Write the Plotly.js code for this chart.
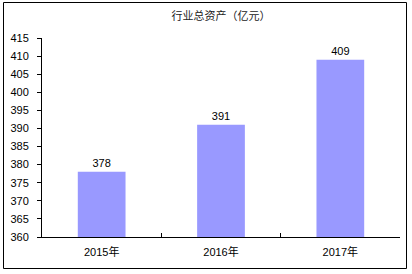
<!DOCTYPE html>
<html>
<head>
<meta charset="utf-8">
<script src="https://cdn.plot.ly/plotly-3.0.1.min.js"></script>
<style>
html,body{margin:0;padding:0;background:#fff;}
#chart{width:412px;height:274px;}
</style>
</head>
<body>
<div id="chart"></div>
<script>
const categories = ["2015年", "2016年", "2017年"];
const values = [378, 391, 409];
const titleText = "行业总资产（亿元）";

const fontFam = "'Liberation Sans', Arial, 'Noto Sans CJK SC', sans-serif";

const trace = {
  type: "bar",
  x: categories,
  y: values,
  text: values.map(String),
  textposition: "outside",
  cliponaxis: false,
  textfont: {family: fontFam, size: 11, color: "#000"},
  marker: {color: "#9999FF", line: {width: 0}},
  width: 0.4,
  hoverinfo: "none"
};

const L = 42, R = 12, T = 38, B = 37;
const W = 412, H = 274;
const pw = W - L - R, ph = H - T - B;

const layout = {
  width: W, height: H,
  margin: {l: L, r: R, t: T, b: B, pad: 0},
  paper_bgcolor: "#fff",
  plot_bgcolor: "#fff",
  showlegend: false,
  font: {family: fontFam, size: 11, color: "#000"},
  title: {
    text: titleText,
    font: {family: "'Noto Sans CJK SC', sans-serif", size: 11, color: "#222"},
    x: 0.5, xanchor: "center",
    y: 1 - 16 / H, yanchor: "middle",
    xref: "paper"
  },
  xaxis: {
    type: "category",
    showline: true, linecolor: "#000", linewidth: 1,
    ticks: "inside", ticklen: 4, tickcolor: "#000",
    tickson: "boundaries",
    ticklabelstandoff: 5,
    showgrid: false, zeroline: false,
    tickfont: {family: fontFam, size: 11, color: "#000"},
    fixedrange: true
  },
  yaxis: {
    range: [360, 415], dtick: 5, tick0: 360,
    showline: true, linecolor: "#000", linewidth: 1,
    ticks: "outside", ticklen: 4, tickcolor: "#000",
    ticklabelstandoff: 6,
    showgrid: false, zeroline: false,
    tickfont: {family: fontFam, size: 11, color: "#000"},
    fixedrange: true
  },
  shapes: [{
    type: "rect", xref: "paper", yref: "paper",
    x0: (3.5 - L) / pw, x1: (406.5 - L) / pw,
    y0: (T + ph - 268.5) / ph, y1: (T + ph - 2.5) / ph,
    line: {color: "#000", width: 1}, fillcolor: "rgba(0,0,0,0)"
  }]
};

Plotly.newPlot("chart", [trace], layout, {staticPlot: true, displayModeBar: false});
</script>
</body>
</html>
